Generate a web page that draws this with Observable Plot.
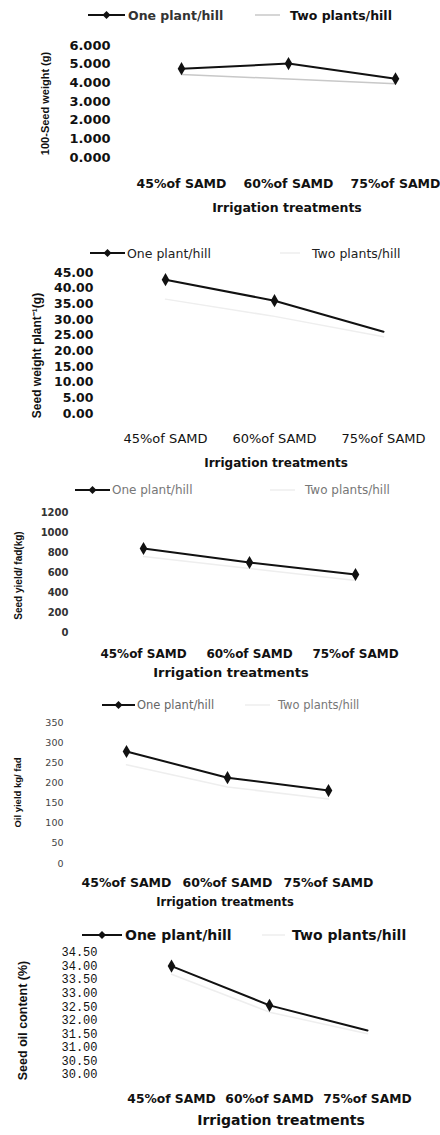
<!DOCTYPE html>
<html><head><meta charset="utf-8">
<script src="https://cdn.jsdelivr.net/npm/d3@7"></script>
<script src="https://cdn.jsdelivr.net/npm/@observablehq/plot@0.6"></script>
<style>
body{margin:0;background:#fff;}
#root{position:relative;width:440px;height:1135px;overflow:hidden;font-family:"DejaVu Sans",sans-serif;color:#111;background:#fff;}
#root svg.plot{position:absolute;left:0;}
.lg{position:absolute;left:0;top:0;white-space:nowrap;}
.ttl{position:absolute;font-weight:bold;white-space:nowrap;transform:translate(-50%,-50%);line-height:1;}
</style></head><body><div id="root"></div><script>
// ---------- data ----------
const categories = ["45%of SAMD", "60%of SAMD", "75%of SAMD"];
const seriesNames = ["One plant/hill", "Two plants/hill"];
const xTitle = "Irrigation treatments";

// Panel 1: 100-seed weight (g)
const seedWeight100One = [4.76, 5.03, 4.22];
const seedWeight100Two = [4.45, 4.20, 3.95];
const seedWeight100Ticks = [0, 1, 2, 3, 4, 5, 6];
const seedWeight100TickLabels = ["0.000", "1.000", "2.000", "3.000", "4.000", "5.000", "6.000"];

// Panel 2: seed weight per plant (g)
const seedPlantOne = [42.7, 36.0, 26.1];
const seedPlantTwo = [36.5, 31.0, 24.5];
const seedPlantTicks = [0, 5, 10, 15, 20, 25, 30, 35, 40, 45];
const seedPlantTickLabels = ["0.00", "5.00", "10.00", "15.00", "20.00", "25.00", "30.00", "35.00", "40.00", "45.00"];

// Panel 3: seed yield per fad (kg)
const seedYieldOne = [840, 700, 580];
const seedYieldTwo = [760, 640, 520];
const seedYieldTicks = [0, 200, 400, 600, 800, 1000, 1200];
const seedYieldTickLabels = ["0", "200", "400", "600", "800", "1000", "1200"];

// Panel 4: oil yield kg/fad
const oilYieldOne = [278, 213, 181];
const oilYieldTwo = [245, 190, 160];
const oilYieldTicks = [0, 50, 100, 150, 200, 250, 300, 350];
const oilYieldTickLabels = ["0", "50", "100", "150", "200", "250", "300", "350"];

// Panel 5: seed oil content (%)
const oilContentOne = [34.0, 32.55, 31.62];
const oilContentTwo = [33.7, 32.3, 31.5];
const oilContentTicks = [30, 30.5, 31, 31.5, 32, 32.5, 33, 33.5, 34, 34.5];
const oilContentTickLabels = ["30.00", "30.50", "31.00", "31.50", "32.00", "32.50", "33.00", "33.50", "34.00", "34.50"];

// ---------- layout ----------
const root = document.getElementById("root");
const W = 440;

function legend(L) {
  const d = document.createElement("div");
  d.className = "lg";
  d.style.top = (L.y - 12) + "px";
  d.style.width = W + "px";
  d.style.height = "24px";
  const svgNS = "http://www.w3.org/2000/svg";
  const s = document.createElementNS(svgNS, "svg");
  s.setAttribute("width", W); s.setAttribute("height", 24);
  s.style.position = "absolute"; s.style.left = "0"; s.style.top = "0";
  const mk = (tag, attrs) => { const e = document.createElementNS(svgNS, tag); for (const k in attrs) e.setAttribute(k, attrs[k]); s.appendChild(e); return e; };
  mk("line", {x1: L.l1[0], x2: L.l1[1], y1: 12, y2: 12, stroke: "#111", "stroke-width": 2});
  const cx = (L.l1[0] + L.l1[1]) / 2;
  mk("path", {d: `M${cx},${12 - 4}L${cx + 4},12L${cx},${12 + 4}L${cx - 4},12Z`, fill: "#111"});
  mk("line", {x1: L.l2[0], x2: L.l2[1], y1: 12, y2: 12, stroke: L.twoColor, "stroke-width": 1.5});
  const t1 = mk("text", {x: L.t1, y: 12, "dominant-baseline": "central", "font-size": L.fs, "font-weight": L.fw, fill: L.c1, "font-family": L.ff});
  t1.textContent = seriesNames[0];
  const t2 = mk("text", {x: L.t2, y: 12, "dominant-baseline": "central", "font-size": L.fs, "font-weight": L.fw, fill: L.c2, "font-family": L.ff});
  t2.textContent = seriesNames[1];
  d.appendChild(s);
  root.appendChild(d);
}

function panel(P) {
  legend(P.legend);
  const mt = 12;
  const mb = P.xLabY - P.yBot + 16;
  const height = (P.yBot - P.yTop) + mt + mb;
  const data = categories.flatMap((c, i) => [
    {cat: c, s: seriesNames[0], v: P.one[i]},
    {cat: c, s: seriesNames[1], v: P.two[i]}
  ]);
  const one = data.filter(d => d.s === seriesNames[0]);
  const two = data.filter(d => d.s === seriesNames[1]);
  const frameCenter = mt + (P.yBot - P.yTop) / 2;
  const chart = Plot.plot({
    width: W, height,
    marginTop: mt, marginBottom: mb, marginLeft: P.x0, marginRight: W - P.x2,
    x: {type: "point", domain: categories, padding: 0},
    y: {domain: P.domain},
    style: {fontFamily: "DejaVu Sans, sans-serif", background: "transparent", overflow: "visible", color: "#111"},
    marks: [
      Plot.axisX({tickSize: 0, tickPadding: P.xLabY - P.yBot - 0.35 * P.xfs, fontSize: P.xfs, fontWeight: P.xfw, label: null, fill: P.xc || "#111"}),
      Plot.axisY({ticks: P.ticks, tickFormat: d => P.labels[P.ticks.indexOf(d)], tickSize: 0,
        tickPadding: P.x0 - P.tickRight, fontSize: P.yfs, fontWeight: P.yfw, fontFamily: P.yff, label: null, fill: P.yc || "#111"}),
      Plot.text([P.ytitle], {frameAnchor: "left", text: d => d, rotate: -90, textAnchor: "middle", lineAnchor: "middle",
        dx: P.ytX - P.x0, dy: (P.ytY - P.yTop + mt) - frameCenter,
        fontSize: P.ytfs, fontWeight: "bold", fontFamily: "Liberation Sans, sans-serif", fill: "#111"}),
      Plot.line(two, {x: "cat", y: "v", stroke: P.legend.twoColor, strokeWidth: 1.5}),
      Plot.line(one, {x: "cat", y: "v", stroke: "#111", strokeWidth: 2}),
      Plot.dot(one.slice(0, P.markers), {x: "cat", y: "v", symbol: "diamond", r: 4, fill: "#111", stroke: "none"})
    ]
  });
  chart.classList.add("plot");
  chart.style.top = (P.yTop - mt) + "px";
  root.appendChild(chart);
  const t = document.createElement("div");
  t.className = "ttl";
  t.textContent = xTitle;
  t.style.left = P.titleX + "px";
  t.style.top = P.titleY + "px";
  t.style.fontSize = P.titleFs + "px";
  root.appendChild(t);
}

panel({
  one: seedWeight100One, two: seedWeight100Two, ticks: seedWeight100Ticks, labels: seedWeight100TickLabels,
  domain: [0, 6], yTop: 45, yBot: 157, x0: 180, x2: 395, tickRight: 110, xLabY: 183,
  xfs: 12.5, xfw: "bold", yfs: 13, yfw: "bold",
  ytitle: "100-Seed weight (g)", ytX: 45, ytY: 103, ytfs: 11,
  titleX: 287, titleY: 208, titleFs: 12.5, markers: 3,
  legend: {y: 15, l1: [88, 125], l2: [255, 280], t1: 128, t2: 290, fs: 12.5, fw: "bold", c1: "#333", c2: "#111", twoColor: "#c8c8c8", ff: "DejaVu Sans"}
});
panel({
  one: seedPlantOne, two: seedPlantTwo, ticks: seedPlantTicks, labels: seedPlantTickLabels,
  domain: [0, 45], yTop: 272, yBot: 413, x0: 165, x2: 383, tickRight: 93, xLabY: 438,
  xfs: 13, xfw: "normal", yfs: 12.5, yfw: "bold",
  ytitle: "Seed weight plant\u207B\u00B9(g)", ytX: 37, ytY: 355, ytfs: 12,
  titleX: 276, titleY: 463, titleFs: 12, markers: 2,
  legend: {y: 253, l1: [90, 125], l2: [280, 300], t1: 127, t2: 312, fs: 12.5, fw: "normal", c1: "#222", c2: "#222", twoColor: "#eeeeee", ff: "DejaVu Sans"}
});
panel({
  one: seedYieldOne, two: seedYieldTwo, ticks: seedYieldTicks, labels: seedYieldTickLabels,
  domain: [0, 1200], yTop: 512, yBot: 632, x0: 143, x2: 355, tickRight: 68, xLabY: 653,
  xfs: 12, xfw: "bold", yfs: 10, yfw: "bold", yc: "#333",
  ytitle: "Seed yield/ fad(kg)", ytX: 18, ytY: 575, ytfs: 10,
  titleX: 231, titleY: 672, titleFs: 13, markers: 3,
  legend: {y: 490, l1: [75, 110], l2: [270, 295], t1: 112, t2: 305, fs: 12, fw: "normal", c1: "#777", c2: "#777", twoColor: "#eeeeee", ff: "DejaVu Sans"}
});
panel({
  one: oilYieldOne, two: oilYieldTwo, ticks: oilYieldTicks, labels: oilYieldTickLabels,
  domain: [0, 350], yTop: 722, yBot: 863, x0: 126, x2: 328, tickRight: 63, xLabY: 882,
  xfs: 12.5, xfw: "bold", yfs: 9.5, yfw: "normal", yc: "#444",
  ytitle: "Oil yield kg/ fad", ytX: 17, ytY: 792, ytfs: 9.5,
  titleX: 225, titleY: 903, titleFs: 11.5, markers: 3,
  legend: {y: 705, l1: [102, 135], l2: [245, 270], t1: 137, t2: 278, fs: 11.5, fw: "normal", c1: "#666", c2: "#777", twoColor: "#eeeeee", ff: "DejaVu Sans"}
});
panel({
  one: oilContentOne, two: oilContentTwo, ticks: oilContentTicks, labels: oilContentTickLabels,
  domain: [30, 34.5], yTop: 952, yBot: 1074, x0: 170, x2: 367, tickRight: 97, xLabY: 1098,
  xfs: 12.3, xfw: "bold", yfs: 12, yfw: "normal", yff: "Liberation Mono, monospace",
  ytitle: "Seed oil content (%)", ytX: 22, ytY: 1020, ytfs: 12.5,
  titleX: 281, titleY: 1120, titleFs: 14, markers: 2,
  legend: {y: 935, l1: [82, 122], l2: [262, 285], t1: 125, t2: 292, fs: 14, fw: "bold", c1: "#111", c2: "#111", twoColor: "#eeeeee", ff: "DejaVu Sans"}
});
</script></body></html>
